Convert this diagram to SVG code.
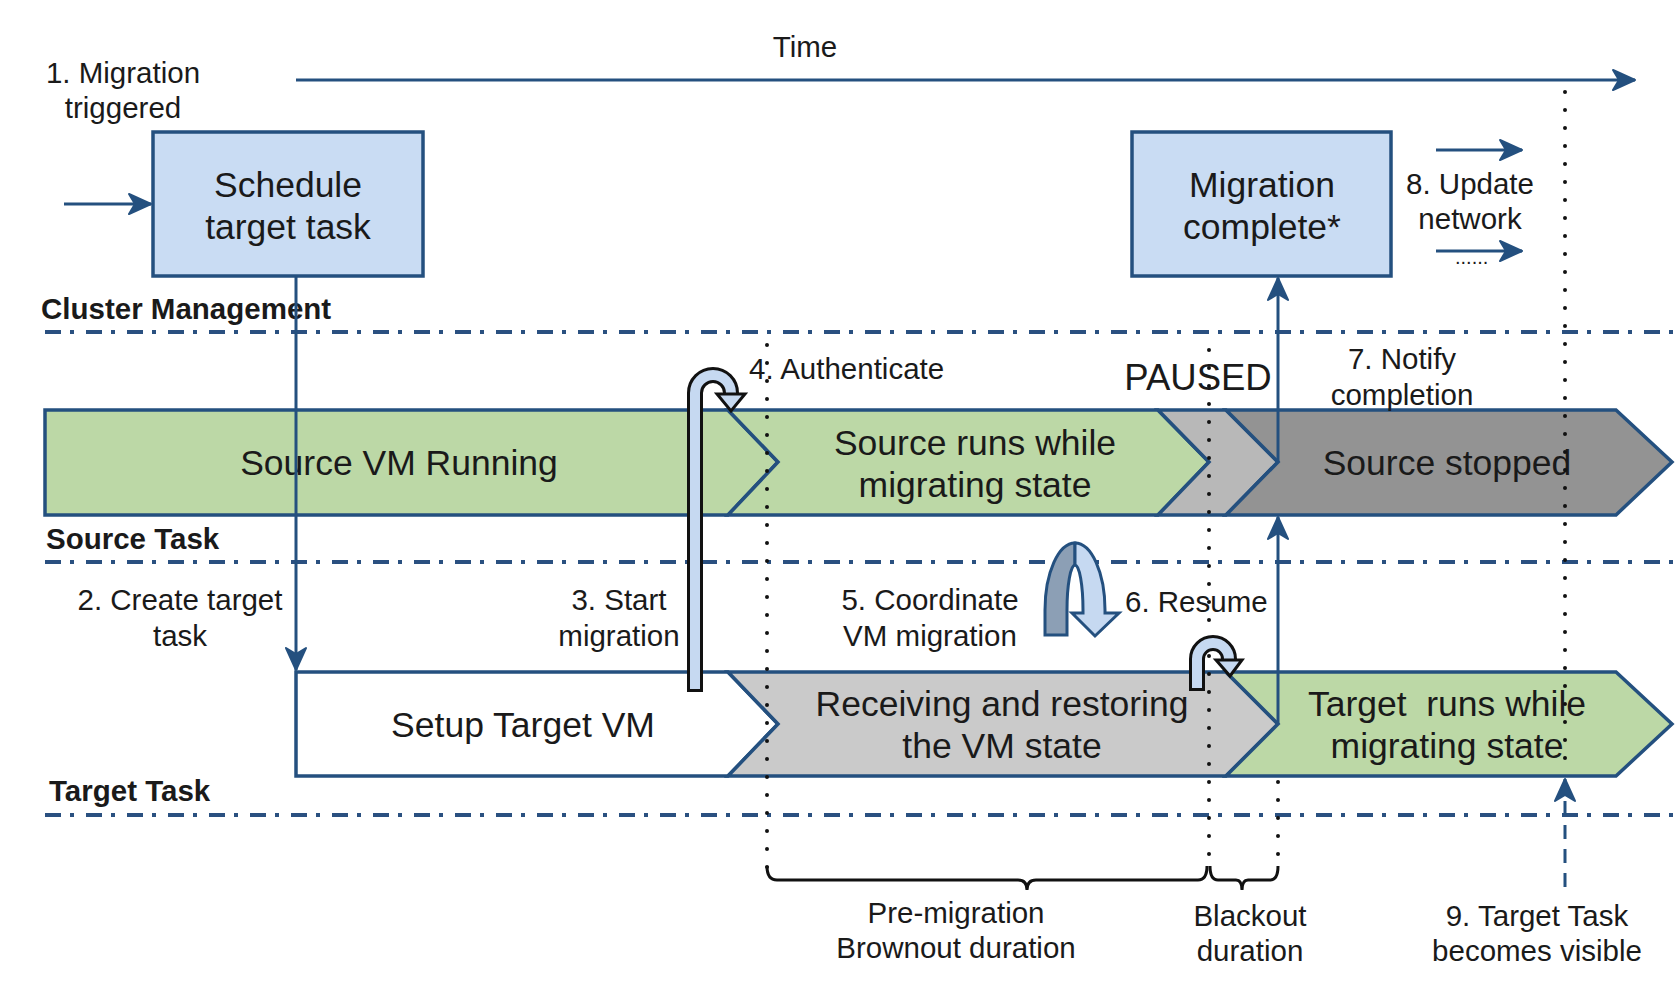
<svg xmlns="http://www.w3.org/2000/svg" width="1678" height="995" viewBox="0 0 1678 995">
<style>
text{font-family:"Liberation Sans",Arial,sans-serif;fill:#1a1a1a}
.sm{font-size:29.5px}
.big{font-size:35.5px}
.bold{font-size:29.5px;font-weight:bold}
.mid{text-anchor:middle}
.box{fill:#c9dcf3;stroke:#24507f;stroke-width:3.5}
.bar{stroke:#24507f;stroke-width:3.5;stroke-linejoin:miter}
.green{fill:#bcd8a6}
.lgray{fill:#cacaca}
.pgray{fill:#b8b8b8}
.dgray{fill:#939393}
.white{fill:#ffffff}
.lane{stroke:#2a5080;stroke-width:4;stroke-dasharray:16 9 4 12;fill:none}
.dots{stroke:#111;stroke-width:4;stroke-linecap:round;stroke-dasharray:0 18;fill:none}
.arr{stroke:#24507f;stroke-width:3;fill:none}
.brace{stroke:#111;stroke-width:3;fill:none}
</style>
<defs>
<marker id="ah" markerUnits="userSpaceOnUse" markerWidth="30" markerHeight="26" refX="24" refY="12" orient="auto">
<path d="M2,2 L24,12 L2,22 L8,12 Z" fill="#24507f" stroke="#24507f" stroke-width="2" stroke-linejoin="round"/>
</marker>
</defs>
<rect width="1678" height="995" fill="#ffffff"/>

<g id="lanes">
<line class="lane" x1="45" y1="332" x2="1678" y2="332"/>
<line class="lane" x1="45" y1="562" x2="1678" y2="562"/>
<line class="lane" x1="45" y1="815" x2="1678" y2="815"/>
<text class="bold" x="41" y="319">Cluster Management</text>
<text class="bold" x="46" y="549">Source Task</text>
<text class="bold" x="49" y="801">Target Task</text>
</g>

<g id="source-vm-running">
<polygon class="bar green" points="45,410 728,410 778,462 728,515 45,515"/>
<text class="big mid" x="399" y="475">Source VM Running</text>
</g>
<g id="source-runs">
<polygon class="bar green" points="728,410 1158,410 1209,462 1158,515 728,515 778,462"/>
<text class="big mid" x="975" y="455">Source runs while</text>
<text class="big mid" x="975" y="497">migrating state</text>
</g>
<g id="paused">
<polygon class="bar pgray" points="1158,410 1226,410 1278,462 1226,515 1158,515 1209,462"/>
<text class="mid" x="1198" y="390" style="font-size:36.5px">PAUSED</text>
</g>
<g id="source-stopped">
<polygon class="bar dgray" points="1226,410 1616,410 1672,462 1616,515 1226,515 1278,462"/>
<text class="big mid" x="1447" y="475">Source stopped</text>
</g>

<g id="setup-target">
<polygon class="bar white" points="296,672 728,672 778,724 728,776 296,776"/>
<text class="big mid" x="523" y="737">Setup Target VM</text>
</g>
<g id="receiving">
<polygon class="bar lgray" points="728,672 1226,672 1278,724 1226,776 728,776 778,724"/>
<text class="big mid" x="1002" y="716">Receiving and restoring</text>
<text class="big mid" x="1002" y="758">the VM state</text>
</g>
<g id="target-runs">
<polygon class="bar green" points="1226,672 1616,672 1672,724 1616,776 1226,776 1278,724"/>
<text class="big mid" x="1447" y="716" xml:space="preserve">Target  runs while</text>
<text class="big mid" x="1447" y="758">migrating state</text>
</g>

<g id="schedule-target-task">
<rect class="box" x="153" y="132" width="270" height="144"/>
<text class="big mid" x="288" y="197">Schedule</text>
<text class="big mid" x="288" y="239">target task</text>
</g>
<g id="migration-complete">
<rect class="box" x="1132" y="132" width="259" height="144"/>
<text class="big mid" x="1262" y="197">Migration</text>
<text class="big mid" x="1262" y="239">complete*</text>
</g>

<g id="timeline-markers">
<line class="dots" x1="767" y1="345" x2="767" y2="872"/>
<line class="dots" x1="1209" y1="350" x2="1209" y2="872"/>
<line class="dots" x1="1278" y1="782" x2="1278" y2="872"/>
<line class="dots" x1="1565" y1="92" x2="1565" y2="776"/>
<path class="brace" d="M767,866 Q767,880 777,880 L1018,880 Q1027,880 1027,890 Q1027,880 1036,880 L1198,880 Q1207,880 1207,866"/>
<path class="brace" d="M1210,866 Q1210,880 1218,880 L1236,880 Q1242,880 1242,890 Q1242,880 1248,880 L1270,880 Q1278,880 1278,866"/>
</g>

<g id="connectors">
<line class="arr" x1="296" y1="80" x2="1635" y2="80" marker-end="url(#ah)"/>
<line class="arr" x1="64" y1="204" x2="151" y2="204" marker-end="url(#ah)"/>
<line class="arr" x1="296" y1="276" x2="296" y2="670" marker-end="url(#ah)"/>
<line class="arr" x1="1278" y1="462" x2="1278" y2="278" marker-end="url(#ah)"/>
<line class="arr" x1="1278" y1="724" x2="1278" y2="517" marker-end="url(#ah)"/>
<line class="arr" x1="1436" y1="150" x2="1522" y2="150" marker-end="url(#ah)"/>
<line class="arr" x1="1436" y1="251" x2="1522" y2="251" marker-end="url(#ah)"/>
<line class="arr" x1="1565" y1="887" x2="1565" y2="779" stroke-dasharray="14 10" marker-end="url(#ah)"/>
<g id="hook-start-migration">
<path d="M695,692 L695,393 A18,18 0 0 1 731,393 L731,396" fill="none" stroke="#111" stroke-width="16"/>
<path d="M695,689 L695,393 A18,18 0 0 1 731,393 L731,398" fill="none" stroke="#c6d9f1" stroke-width="10"/>
<polygon points="717,394 745,394 731,411" fill="#c6d9f1" stroke="#111" stroke-width="3" stroke-linejoin="miter"/>
</g>
<g id="hook-resume">
<path d="M1197,691 L1197,659 A16,16 0 0 1 1229,659 L1229,660" fill="none" stroke="#111" stroke-width="16"/>
<path d="M1197,688 L1197,659 A16,16 0 0 1 1229,659 L1229,662" fill="none" stroke="#c6d9f1" stroke-width="10"/>
<polygon points="1216,660 1242,660 1230,676" fill="#c6d9f1" stroke="#111" stroke-width="3"/>
</g>
<g id="arch-coordinate">
<path d="M1045,635 L1045,610 A30,67 0 0 1 1075,543 L1075,565 A8,45 0 0 0 1067,610 L1067,635 Z" fill="#8c9fb5" stroke="#24507f" stroke-width="3"/>
<path d="M1075,543 A30,67 0 0 1 1105,610 L1105,613 L1119,613 L1095,636 L1072,613 L1083,613 L1083,610 A8,45 0 0 0 1075,565 Z" fill="#c6d9f1" stroke="#24507f" stroke-width="3"/>
</g>
</g>

<g id="labels">
<text class="sm mid" x="123" y="83">1. Migration</text>
<text class="sm mid" x="123" y="118">triggered</text>
<text class="sm mid" x="805" y="57">Time</text>
<text class="sm mid" x="1470" y="194">8. Update</text>
<text class="sm mid" x="1470" y="229">network</text>
<text x="1455" y="264" style="font-size:20px">......</text>
<text class="sm" x="749" y="379">4. Authenticate</text>
<text class="sm mid" x="1402" y="369">7. Notify</text>
<text class="sm mid" x="1402" y="405">completion</text>
<text class="sm mid" x="180" y="610">2. Create target</text>
<text class="sm mid" x="180" y="646">task</text>
<text class="sm mid" x="619" y="610">3. Start</text>
<text class="sm mid" x="619" y="646">migration</text>
<text class="sm mid" x="930" y="610">5. Coordinate</text>
<text class="sm mid" x="930" y="646">VM migration</text>
<text class="sm" x="1125" y="612">6. Resume</text>
<text class="sm mid" x="956" y="923">Pre-migration</text>
<text class="sm mid" x="956" y="958">Brownout duration</text>
<text class="sm mid" x="1250" y="926">Blackout</text>
<text class="sm mid" x="1250" y="961">duration</text>
<text class="sm mid" x="1537" y="926">9. Target Task</text>
<text class="sm mid" x="1537" y="961">becomes visible</text>
</g>
</svg>
